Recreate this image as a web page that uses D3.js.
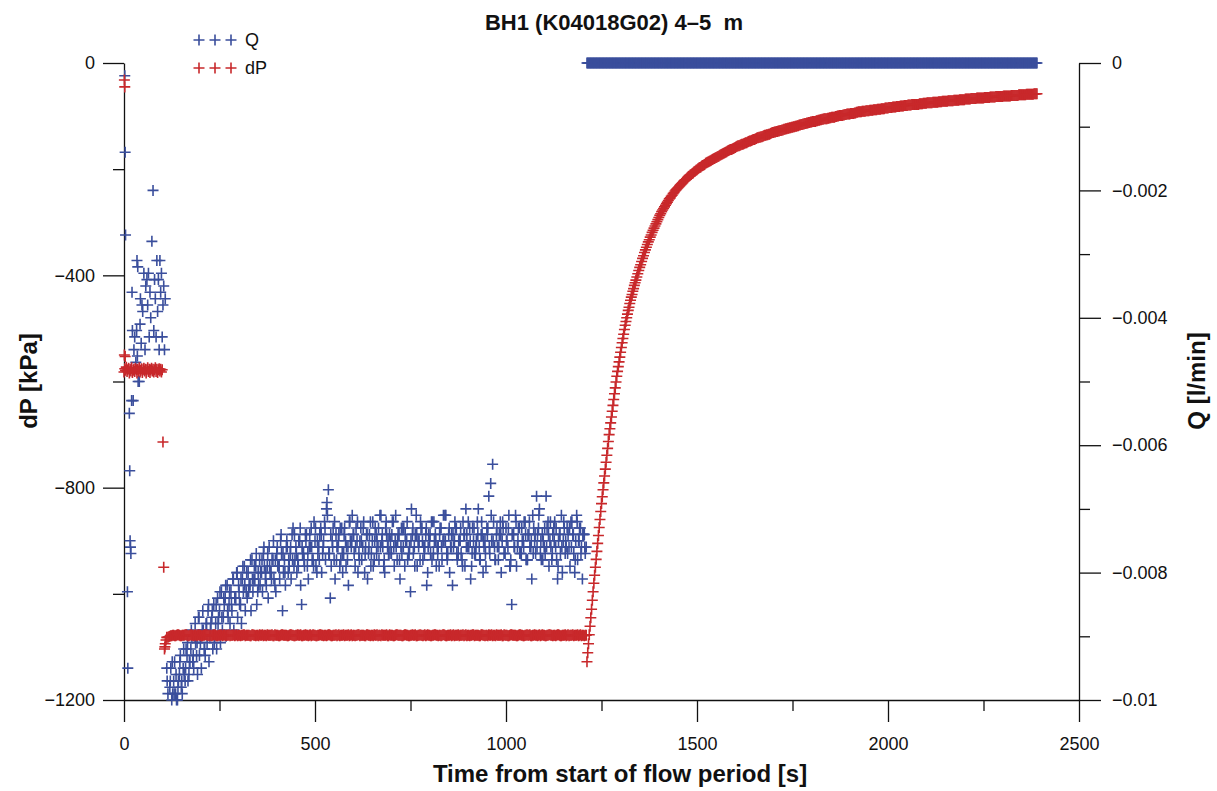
<!DOCTYPE html>
<html>
<head>
<meta charset="utf-8">
<script src="https://cdn.jsdelivr.net/npm/d3@7"></script>
<style>
  body { margin: 0; background: #fff; }
  text { font-family: "Liberation Sans", Arial, sans-serif; fill: #111; }
</style>
</head>
<body>
<div id="chart"></div>
<script>
// ---- data ----
// Q [l/min], first ~2 minutes (time, Q)
const qEarly = [[2,-0.0002],[3,-0.0014],[4,-0.0027],[9,-0.0083],[10,-0.0095],[14,-0.0055],[15,-0.0064],
  [16,-0.0075],[17,-0.0076],[18,-0.0077],[20,-0.0053],[21,-0.0036],[22,-0.0042],[24,-0.0053],[26,-0.0045],
  [28,-0.0043],[31,-0.0047],[33,-0.0042],[34,-0.0031],[35,-0.0046],[36,-0.0032],[37,-0.0050],[40,-0.0050],
  [42,-0.0041],[43,-0.0037],[45,-0.0044],[47,-0.0038],[49,-0.0039],[52,-0.0033],[55,-0.0045],[57,-0.0035],
  [60,-0.0034],[62,-0.0038],[64,-0.0033],[66,-0.0043],[68,-0.0036],[70,-0.0040],[73,-0.0028],[76,-0.0020],
  [78,-0.0042],[80,-0.0034],[82,-0.0037],[84,-0.0043],[86,-0.0031],[88,-0.0039],[90,-0.0034],[92,-0.0045],
  [94,-0.0031],[96,-0.0036],[98,-0.0033],[100,-0.0043],[102,-0.0038],[104,-0.0035],[106,-0.0045],[108,-0.0037],
  [112,-0.0095],[113,-0.0097],[115,-0.0099]];

// Q during flow period, logged every 5 s from 120 s
const qFlowStart = 120, qFlowStep = 5;
const qFlow = [
  -0.0098,-0.0100,-0.0097,-0.0099,-0.0100,-0.0096,-0.0098,-0.0095,-0.0097,-0.0093,
  -0.0096,-0.0092,-0.0094,-0.0090,-0.0093,-0.0087,-0.0091,-0.0089,-0.0092,-0.0088,
  -0.0086,-0.0090,-0.0087,-0.0085,-0.0088,-0.0084,-0.0086,-0.0083,-0.0087,-0.0084,
  -0.0082,-0.0085,-0.0083,-0.0081,-0.0084,-0.0080,-0.0082,-0.0085,-0.0081,-0.0079,
  -0.0083,-0.0080,-0.0082,-0.0078,-0.0081,-0.0079,-0.0083,-0.0078,-0.0080,-0.0077,
  -0.0081,-0.0079,-0.0076,-0.0080,-0.0078,-0.0082,-0.0077,-0.0079,-0.0075,-0.0086,
  -0.0078,-0.0076,-0.0080,-0.0077,-0.0074,-0.0079,-0.0076,-0.0078,-0.0075,-0.0085,
  -0.0077,-0.0074,-0.0079,-0.0076,-0.0073,-0.0078,-0.0075,-0.0080,-0.0076,-0.0073,
  -0.0077,-0.0072,-0.0070,-0.0067,-0.0084,-0.0075,-0.0078,-0.0074,-0.0076,-0.0079,
  -0.0073,-0.0077,-0.0075,-0.0078,-0.0072,-0.0076,-0.0074,-0.0079,-0.0075,-0.0077,
  -0.0073,-0.0076,-0.0080,-0.0074,-0.0077,-0.0072,-0.0075,-0.0078,-0.0074,-0.0076,
  -0.0071,-0.0075,-0.0079,-0.0073,-0.0076,-0.0074,-0.0077,-0.0072,-0.0075,-0.0078,
  -0.0074,-0.0076,-0.0073,-0.0079,-0.0075,-0.0077,-0.0083,-0.0074,-0.0076,-0.0071,
  -0.0075,-0.0078,-0.0073,-0.0076,-0.0074,-0.0080,-0.0075,-0.0072,-0.0077,-0.0074,
  -0.0076,-0.0079,-0.0073,-0.0075,-0.0071,-0.0077,-0.0074,-0.0076,-0.0082,-0.0075,
  -0.0073,-0.0077,-0.0075,-0.0078,-0.0074,-0.0070,-0.0076,-0.0073,-0.0079,-0.0075,
  -0.0077,-0.0072,-0.0076,-0.0074,-0.0080,-0.0075,-0.0073,-0.0068,-0.0066,-0.0063,
  -0.0076,-0.0074,-0.0078,-0.0072,-0.0075,-0.0077,-0.0073,-0.0076,-0.0079,-0.0085,
  -0.0074,-0.0071,-0.0076,-0.0073,-0.0077,-0.0075,-0.0072,-0.0078,-0.0074,-0.0076,
  -0.0071,-0.0075,-0.0068,-0.0073,-0.0077,-0.0074,-0.0076,-0.0068,-0.0072,-0.0075,
  -0.0078,-0.0073,-0.0076,-0.0081,-0.0074,-0.0071,-0.0075,-0.0077,-0.0073,-0.0076,
  -0.0072,-0.0074,-0.0080,-0.0071,-0.0075,-0.0073,-0.0081,-0.0074,-0.0076];

// the in-between readings (logged every 5 s from 122.5 s)
const qFlowStartB = 122.5;
const qFlowB = [
  -0.0095,-0.0099,-0.0094,-0.0100,-0.0097,-0.0093,-0.0099,-0.0096,
  -0.0092,-0.0097,-0.0094,-0.0090,-0.0095,-0.0091,-0.0096,-0.0093,
  -0.0095,-0.0089,-0.0093,-0.0091,-0.0094,-0.0088,-0.0092,-0.0090,
  -0.0092,-0.0087,-0.0091,-0.0089,-0.0085,-0.0090,-0.0087,-0.0088,
  -0.0086,-0.0089,-0.0084,-0.0087,-0.0085,-0.0088,-0.0083,-0.0086,
  -0.0084,-0.0082,-0.0086,-0.0083,-0.0081,-0.0085,-0.0082,-0.0080,
  -0.0083,-0.0079,-0.0082,-0.0084,-0.0080,-0.0078,-0.0081,-0.0083,
  -0.0079,-0.0081,-0.0077,-0.0080,-0.0082,-0.0076,-0.0079,-0.0081,
  -0.0073,-0.0078,-0.0080,-0.0075,-0.0082,-0.0077,-0.0079,-0.0074,
  -0.0081,-0.0076,-0.0078,-0.0072,-0.0079,-0.0077,-0.0074,-0.0080,
  -0.0075,-0.0078,-0.0071,-0.0077,-0.0079,-0.0073,-0.0081,-0.0076,
  -0.0074,-0.0078,-0.0080,-0.0073,-0.0076,-0.0082,-0.0075,-0.0071,
  -0.0077,-0.0073,-0.0080,-0.0075,-0.0078,-0.0072,-0.0076,-0.0081,-0.0074,-0.0077,
  -0.0079,-0.0073,-0.0075,-0.0078,-0.0071,-0.0076,-0.0080,-0.0074,-0.0077,-0.0075,
  -0.0072,-0.0079,-0.0076,-0.0074,-0.0081,-0.0077,-0.0073,-0.0075,-0.0078,-0.0076,
  -0.0070,-0.0077,-0.0074,-0.0079,-0.0075,-0.0073,-0.0078,-0.0076,-0.0082,-0.0074,
  -0.0077,-0.0072,-0.0075,-0.0079,-0.0076,-0.0073,-0.0078,-0.0075,-0.0071,-0.0077,
  -0.0080,-0.0074,-0.0076,-0.0073,-0.0078,-0.0075,-0.0077,-0.0072,-0.0079,-0.0074,
  -0.0076,-0.0081,-0.0073,-0.0077,-0.0075,-0.0070,-0.0078,-0.0074,-0.0076,-0.0079,
  -0.0073,-0.0077,-0.0075,-0.0072,-0.0078,-0.0076,-0.0074,-0.0080,-0.0073,-0.0077,
  -0.0075,-0.0071,-0.0078,-0.0074,-0.0076,-0.0079,-0.0073,-0.0077,-0.0075,-0.0072,
  -0.0078,-0.0074,-0.0076,-0.0081,-0.0073,-0.0077,-0.0074,-0.0070,-0.0078,-0.0075,
  -0.0077,-0.0073,-0.0079,-0.0076,-0.0074,-0.0072,-0.0078,-0.0075,-0.0077,-0.0080,
  -0.0073,-0.0076,-0.0074,-0.0079,-0.0072,-0.0077,-0.0075,-0.0078,-0.0073,-0.0076,
  -0.0074,-0.0077];

// a third set of readings (every 5 s from 121.25 s)
const qFlowStartC = 121.25;
const qFlowC = [
  -0.0097,-0.0094,-0.0099,-0.0096,-0.0098,-0.0094,-0.0097,-0.0092,
  -0.0095,-0.0091,-0.0094,-0.0089,-0.0093,-0.0088,-0.0091,-0.0087,
  -0.0090,-0.0086,-0.0092,-0.0088,-0.0085,-0.0089,-0.0086,-0.0091,
  -0.0085,-0.0088,-0.0083,-0.0087,-0.0084,-0.0082,-0.0086,-0.0083,
  -0.0085,-0.0081,-0.0084,-0.0080,-0.0083,-0.0081,-0.0079,-0.0082,
  -0.0080,-0.0083,-0.0078,-0.0081,-0.0079,-0.0077,-0.0080,-0.0082,
  -0.0078,-0.0076,-0.0080,-0.0077,-0.0079,-0.0081,-0.0075,-0.0078,
  -0.0076,-0.0079,-0.0074,-0.0077,-0.0080,-0.0075,-0.0078,-0.0076,
  -0.0078,-0.0074,-0.0077,-0.0079,-0.0073,-0.0076,-0.0078,-0.0075,
  -0.0077,-0.0074,-0.0076,-0.0079,-0.0073,-0.0075,-0.0078,-0.0074,
  -0.0076,-0.0073,-0.0069,-0.0077,-0.0074,-0.0076,-0.0072,-0.0078,
  -0.0075,-0.0073,-0.0077,-0.0074,-0.0079,-0.0076,-0.0072,-0.0075,
  -0.0074,-0.0076,-0.0072,-0.0078,-0.0075,-0.0073,-0.0077,-0.0074,-0.0076,-0.0079,
  -0.0072,-0.0075,-0.0077,-0.0073,-0.0076,-0.0074,-0.0078,-0.0072,-0.0075,-0.0077,
  -0.0074,-0.0076,-0.0071,-0.0075,-0.0078,-0.0073,-0.0076,-0.0074,-0.0072,-0.0077,
  -0.0075,-0.0073,-0.0079,-0.0074,-0.0076,-0.0072,-0.0075,-0.0077,-0.0073,-0.0076,
  -0.0074,-0.0078,-0.0072,-0.0075,-0.0077,-0.0074,-0.0076,-0.0071,-0.0075,-0.0078,
  -0.0073,-0.0076,-0.0074,-0.0072,-0.0077,-0.0075,-0.0073,-0.0079,-0.0074,-0.0076,
  -0.0072,-0.0075,-0.0077,-0.0073,-0.0076,-0.0074,-0.0078,-0.0072,-0.0075,-0.0077,
  -0.0074,-0.0076,-0.0071,-0.0075,-0.0078,-0.0073,-0.0076,-0.0074,-0.0072,-0.0077,
  -0.0075,-0.0073,-0.0079,-0.0074,-0.0076,-0.0072,-0.0075,-0.0077,-0.0073,-0.0076,
  -0.0074,-0.0078,-0.0072,-0.0075,-0.0077,-0.0074,-0.0076,-0.0071,-0.0075,-0.0078,
  -0.0073,-0.0076,-0.0074,-0.0072,-0.0077,-0.0075,-0.0073,-0.0079,-0.0074,-0.0076,
  -0.0072,-0.0075,-0.0077,-0.0073,-0.0076,-0.0074,-0.0078,-0.0072,-0.0075,-0.0077,
  -0.0074,-0.0076];

// Q after valve closed: constant reading, logged every 2 s
const qShutIn = 0;
const qShutStart = 1212, qShutEnd = 2390, qShutStep = 2;

// dP [kPa], first ~2 minutes (time, dP)
const dpEarly = [[1,-32],[2,-45],[1,-550],[3,-553],
  [0,-582],[2,-576],[4,-579],[6,-573],[8,-581],[10,-578],[12,-575],[14,-584],[16,-577],[18,-580],
  [20,-574],[22,-583],[24,-579],[26,-577],[28,-581],[30,-575],[32,-578],[34,-584],[36,-577],[38,-580],
  [40,-574],[42,-582],[44,-579],[46,-576],[48,-583],[50,-578],[52,-575],[54,-580],[56,-577],[58,-584],
  [60,-578],[62,-574],[64,-581],[66,-577],[68,-583],[70,-578],[72,-575],[74,-580],[76,-577],[78,-582],
  [80,-578],[82,-574],[84,-581],[86,-577],[88,-583],[90,-578],[92,-576],[94,-580],[96,-577],[98,-582],
  [100,-578],[102,-714],[104,-950],[106,-1104],[107,-1100],[108,-1094],[110,-1087],[112,-1082]];

// dP during flow period, logged every 5 s from 115 s (and in-between from 117.5 s)
const dpFlowStart = 115, dpFlowStartB = 117.5, dpFlowStep = 5;
const dpFlow = [
  -1082,-1080,-1079,-1078,-1079,-1077,-1078,-1079,-1078,-1077,-1078,-1079,-1077,-1078,-1078,-1079,
  -1077,-1078,-1079,-1078,-1077,-1078,-1078,-1079,-1077,-1078,-1079,-1078,-1077,-1078,-1079,-1078,
  -1077,-1078,-1078,-1079,-1077,-1078,-1079,-1078,-1077,-1078,-1078,-1079,-1077,-1078,-1079,-1078,
  -1077,-1078,-1079,-1078,-1077,-1078,-1078,-1079,-1077,-1078,-1079,-1078,-1077,-1078,-1078,-1079,
  -1077,-1078,-1079,-1078,-1077,-1078,-1079,-1078,-1077,-1078,-1078,-1079,-1077,-1078,-1079,-1078,
  -1077,-1078,-1078,-1079,-1077,-1078,-1079,-1078,-1077,-1078,-1079,-1078,-1077,-1078,-1078,-1079,
  -1077,-1078,-1079,-1078,-1077,-1078,-1078,-1079,-1077,-1078,-1079,-1078,-1077,-1078,-1079,-1078,
  -1077,-1078,-1078,-1079,-1077,-1078,-1079,-1078,-1077,-1078,-1078,-1079,-1077,-1078,-1079,-1078,
  -1077,-1078,-1079,-1078,-1077,-1078,-1078,-1079,-1077,-1078,-1079,-1078,-1077,-1078,-1078,-1079,
  -1077,-1078,-1079,-1078,-1077,-1078,-1079,-1078,-1077,-1078,-1078,-1079,-1077,-1078,-1079,-1078,
  -1077,-1078,-1078,-1079,-1077,-1078,-1079,-1078,-1077,-1078,-1079,-1078,-1077,-1078,-1078,-1079,
  -1077,-1078,-1079,-1078,-1077,-1078,-1078,-1079,-1077,-1078,-1079,-1078,-1077,-1078,-1079,-1078,
  -1077,-1078,-1078,-1079,-1077,-1078,-1079,-1078,-1077,-1078,-1078,-1079,-1077,-1078,-1079,-1078,
  -1077,-1078,-1079,-1078,-1077,-1078,-1078,-1079,-1077,-1078,-1079,-1078];
const dpFlowB = [
  -1081,-1079,-1078,-1079,-1078,-1077,-1079,-1078,-1078,-1077,-1079,-1078,-1078,-1079,-1077,-1078,
  -1078,-1079,-1078,-1077,-1078,-1079,-1078,-1078,-1077,-1079,-1078,-1078,-1079,-1077,-1078,-1078,
  -1079,-1078,-1077,-1078,-1079,-1078,-1078,-1077,-1079,-1078,-1078,-1079,-1077,-1078,-1078,-1079,
  -1078,-1077,-1078,-1079,-1078,-1078,-1077,-1079,-1078,-1078,-1079,-1077,-1078,-1078,-1079,-1078,
  -1077,-1078,-1079,-1078,-1078,-1077,-1079,-1078,-1078,-1079,-1077,-1078,-1078,-1079,-1078,-1077,
  -1078,-1079,-1078,-1078,-1077,-1079,-1078,-1078,-1079,-1077,-1078,-1078,-1079,-1078,-1077,-1078,
  -1079,-1078,-1078,-1077,-1079,-1078,-1078,-1079,-1077,-1078,-1078,-1079,-1078,-1077,-1078,-1079,
  -1078,-1078,-1077,-1079,-1078,-1078,-1079,-1077,-1078,-1078,-1079,-1078,-1077,-1078,-1079,-1078,
  -1078,-1077,-1079,-1078,-1078,-1079,-1077,-1078,-1078,-1079,-1078,-1077,-1078,-1079,-1078,-1078,
  -1077,-1079,-1078,-1078,-1079,-1077,-1078,-1078,-1079,-1078,-1077,-1078,-1079,-1078,-1078,-1077,
  -1079,-1078,-1078,-1079,-1077,-1078,-1078,-1079,-1078,-1077,-1078,-1079,-1078,-1078,-1077,-1079,
  -1078,-1078,-1079,-1077,-1078,-1078,-1079,-1078,-1077,-1078,-1079,-1078,-1078,-1077,-1079,-1078,
  -1078,-1079,-1077,-1078,-1078,-1079,-1078,-1077,-1078,-1079,-1078,-1078,-1077,-1079,-1078,-1078,
  -1079,-1077,-1078,-1078,-1079,-1078,-1077,-1078,-1079,-1078,-1078];

// dP recovery after shut-in (time, dP)
const dpRecovery = [
  [1212,-1128],[1214,-1111],[1216,-1094],[1218,-1077],[1220,-1061],[1222,-1045],[1224,-1029],[1226,-1012],
  [1228,-996],[1230,-980],[1232,-965],[1234,-950],[1236,-935],[1238,-920],[1240,-905],[1242,-890],
  [1244,-875],[1246,-860],[1248,-845],[1250,-830],[1252,-817],[1254,-804],[1256,-791],[1258,-778],
  [1260,-765],[1262,-752],[1264,-739],[1266,-726],[1268,-713],[1270,-700],[1272,-689],[1274,-678],
  [1276,-667],[1278,-656],[1280,-645],[1282,-634],[1284,-623],[1286,-612],[1288,-601],[1290,-590],
  [1292,-581],[1294,-572],[1296,-563],[1298,-554],[1300,-545],[1302,-536],[1304,-527],[1306,-519],
  [1308,-511],[1310,-502],[1312,-494],[1314,-487],[1316,-480],[1318,-473],[1320,-466],[1322,-460],
  [1324,-453],[1326,-447],[1328,-441],[1330,-436],[1332,-430],[1334,-425],[1336,-419],[1338,-414],
  [1340,-409],[1345,-397],[1350,-385],[1355,-374],[1360,-363],[1365,-352],[1370,-342],[1375,-333],
  [1380,-324],[1385,-315],[1390,-307],[1395,-299],[1400,-291],[1405,-284],[1410,-277],[1415,-271],
  [1420,-265],[1425,-259],[1430,-254],[1435,-249],[1440,-244],[1445,-239],[1450,-235],[1455,-231],
  [1460,-227],[1465,-223],[1470,-220],[1475,-216],[1480,-213],[1485,-210],[1490,-207],[1495,-204],
  [1500,-201],[1505,-198],[1510,-196],[1515,-193],[1520,-191],[1525,-188],[1530,-186],[1535,-184],
  [1540,-182],[1545,-180],[1550,-178],[1555,-176],[1560,-174],[1565,-172],[1570,-170],[1575,-168],
  [1580,-166],[1585,-164],[1590,-163],[1595,-161],[1600,-159],[1605,-157],[1610,-156],[1615,-154],
  [1620,-153],[1625,-151],[1630,-150],[1635,-148],[1640,-147],[1645,-145],[1650,-144],[1655,-142],
  [1660,-141],[1665,-140],[1670,-139],[1675,-137],[1680,-136],[1685,-135],[1690,-134],[1695,-132],
  [1700,-131],[1705,-130],[1710,-129],[1715,-128],[1720,-127],[1725,-126],[1730,-125],[1735,-124],
  [1740,-123],[1745,-122],[1750,-121],[1755,-120],[1760,-119],[1765,-118],[1770,-117],[1775,-116],
  [1780,-115],[1785,-114],[1790,-113],[1795,-112],[1800,-111],[1805,-110],[1810,-110],[1815,-109],
  [1820,-108],[1825,-107],[1830,-106],[1835,-105],[1840,-105],[1845,-104],[1850,-103],[1855,-102],
  [1860,-102],[1865,-101],[1870,-100],[1875,-99],[1880,-99],[1885,-98],[1890,-97],[1895,-96],
  [1900,-96],[1905,-95],[1910,-95],[1915,-94],[1920,-93],[1925,-92],[1930,-92],[1935,-91],
  [1940,-91],[1945,-90],[1950,-90],[1955,-89],[1960,-89],[1965,-88],[1970,-88],[1975,-87],
  [1980,-87],[1985,-86],[1990,-86],[1995,-85],[2000,-85],[2005,-84],[2010,-84],[2015,-83],
  [2020,-83],[2025,-82],[2030,-82],[2035,-81],[2040,-81],[2045,-80],[2050,-80],[2055,-79],
  [2060,-79],[2065,-78],[2070,-78],[2075,-78],[2080,-78],[2085,-77],[2090,-77],[2095,-76],
  [2100,-76],[2105,-75],[2110,-75],[2115,-75],[2120,-74],[2125,-74],[2130,-74],[2135,-73],
  [2140,-73],[2145,-72],[2150,-72],[2155,-72],[2160,-71],[2165,-71],[2170,-71],[2175,-70],
  [2180,-70],[2185,-70],[2190,-69],[2195,-69],[2200,-69],[2205,-68],[2210,-68],[2215,-68],
  [2220,-67],[2225,-67],[2230,-67],[2235,-66],[2240,-66],[2245,-66],[2250,-66],[2255,-65],
  [2260,-65],[2265,-65],[2270,-64],[2275,-64],[2280,-64],[2285,-63],[2290,-63],[2295,-63],
  [2300,-63],[2305,-62],[2310,-62],[2315,-62],[2320,-62],[2325,-61],[2330,-61],[2335,-61],
  [2340,-61],[2345,-60],[2350,-60],[2355,-60],[2360,-60],[2365,-59],[2370,-59],[2375,-59],
  [2380,-59],[2385,-58],[2390,-58]];

// recovery readings in between, every 5 s from 1342.5 s
const dpRecStartB = 1342.5, dpRecStepB = 5;
const dpRecoveryB = [
  -403,-391,-380,-368,-357,-347,-337,-328,-319,-311,-303,-295,-287,-280,-274,-268,-262,-256,-251,-246,
  -241,-237,-233,-229,-225,-221,-218,-214,-211,-208,-205,-202,-199,-197,-194,-192,-189,-187,-185,-183,
  -181,-179,-177,-175,-173,-171,-169,-167,-165,-163,-162,-160,-158,-156,-155,-153,-152,-150,-149,-147,
  -146,-144,-143,-141,-140,-139,-138,-136,-135,-134,-133,-131,-130,-129,-128,-127,-126,-125,-124,-123,
  -122,-121,-120,-119,-118,-117,-116,-115,-114,-113,-112,-111,-110,-110,-109,-108,-107,-106,-105,-105,
  -104,-103,-102,-102,-101,-100,-99,-99,-98,-97,-96,-96,-95,-95,-94,-93,-92,-92,-91,-91,
  -90,-90,-89,-89,-88,-88,-87,-87,-86,-86,-85,-85,-84,-84,-83,-83,-82,-82,-81,-81,
  -80,-80,-79,-79,-78,-78,-78,-78,-77,-77,-76,-76,-75,-75,-75,-74,-74,-74,-73,-73,
  -72,-72,-72,-71,-71,-71,-70,-70,-70,-69,-69,-69,-68,-68,-68,-67,-67,-67,-66,-66,
  -66,-66,-65,-65,-65,-64,-64,-64,-63,-63,-63,-63,-62,-62,-62,-62,-61,-61,-61,-61,
  -60,-60,-60,-60,-59,-59,-59,-59,-58,-58];

// ticks
const xMajor = [0, 500, 1000, 1500, 2000, 2500];
const xMinor = [250, 750, 1250, 1750, 2250];
const dpMajor = [0, -400, -800, -1200];
const dpMinor = [-200, -600, -1000];
const qMajor = [0, -0.002, -0.004, -0.006, -0.008, -0.01];
const qMinor = [-0.001, -0.003, -0.005, -0.007, -0.009];

const width = 1217, height = 791;
const margin = { top: 63, right: 138, bottom: 91, left: 124 };
const BLUE = "#3a4e9c", RED = "#c8282b";
const MARK_W = 1.6;

const svg = d3.select("#chart")
  .append("svg")
  .attr("width", width)
  .attr("height", height);

// Scales
const x = d3.scaleLinear().domain([0, 2500]).range([margin.left, width - margin.right]);
const yP = d3.scaleLinear().domain([-1200, 0]).range([height - margin.bottom, margin.top]);
const yQ = d3.scaleLinear().domain([-0.01, 0]).range([height - margin.bottom, margin.top]);

// build point lists
const qPoints = qEarly.map(([t, v]) => ({ t, v }))
  .concat(qFlow.map((v, i) => ({ t: qFlowStart + i * qFlowStep, v })))
  .concat(qFlowB.map((v, i) => ({ t: qFlowStartB + i * qFlowStep, v })))
  .concat(qFlowC.map((v, i) => ({ t: qFlowStartC + i * qFlowStep, v })))
  .concat(d3.range(qShutStart, qShutEnd + 1, qShutStep).map(t => ({ t, v: qShutIn })));
const dpPoints = dpEarly.map(([t, v]) => ({ t, v }))
  .concat(dpFlow.map((v, i) => ({ t: dpFlowStart + i * dpFlowStep, v })))
  .concat(dpFlowB.map((v, i) => ({ t: dpFlowStartB + i * dpFlowStep, v })))
  .concat(dpRecovery.map(([t, v]) => ({ t, v })))
  .concat(dpRecoveryB.map((v, i) => ({ t: dpRecStartB + i * dpRecStepB, v })));

const cross = "M-5.5,0H5.5M0,-5.5V5.5";

// Axes
const fmt = d => d === 0 ? "0" : d3.format("")(d);
const TICK_FONT = 18;

function styleAxis(g) {
  g.selectAll(".domain").attr("stroke", "#111").attr("stroke-width", 1.3);
  g.selectAll(".tick line").attr("stroke", "#111").attr("stroke-width", 1.3);
  g.selectAll(".tick text")
    .attr("font-size", TICK_FONT)
    .attr("font-family", "Liberation Sans, Arial, sans-serif")
    .attr("fill", "#111");
}

const bottom = height - margin.bottom;
svg.append("g")
  .attr("transform", `translate(0,${bottom})`)
  .call(d3.axisBottom(x).tickValues(xMajor).tickSize(22).tickSizeOuter(0).tickPadding(15).tickFormat(fmt))
  .call(styleAxis);
svg.append("g")
  .attr("transform", `translate(0,${bottom})`)
  .call(d3.axisBottom(x).tickValues(xMinor).tickSize(11).tickFormat(""))
  .call(g => g.select(".domain").remove())
  .call(styleAxis);

svg.append("g")
  .attr("transform", `translate(${margin.left},0)`)
  .call(d3.axisLeft(yP).tickValues(dpMajor).tickSize(21).tickSizeOuter(0).tickPadding(8).tickFormat(fmt))
  .call(styleAxis);
svg.append("g")
  .attr("transform", `translate(${margin.left},0)`)
  .call(d3.axisLeft(yP).tickValues(dpMinor).tickSize(11).tickFormat(""))
  .call(g => g.select(".domain").remove())
  .call(styleAxis);

svg.append("g")
  .attr("transform", `translate(${width - margin.right},0)`)
  .call(d3.axisRight(yQ).tickValues(qMajor).tickSize(22).tickSizeOuter(0).tickPadding(11).tickFormat(fmt))
  .call(styleAxis);
svg.append("g")
  .attr("transform", `translate(${width - margin.right},0)`)
  .call(d3.axisRight(yQ).tickValues(qMinor).tickSize(11).tickFormat(""))
  .call(g => g.select(".domain").remove())
  .call(styleAxis);

// Markers: Q first, dP drawn on top
svg.append("g")
  .selectAll("path")
  .data(qPoints)
  .join("path")
  .attr("d", cross)
  .attr("transform", d => `translate(${x(d.t)},${yQ(d.v)})`)
  .attr("fill", "none")
  .attr("stroke", BLUE)
  .attr("stroke-width", MARK_W);

svg.append("g")
  .selectAll("path")
  .data(dpPoints)
  .join("path")
  .attr("d", cross)
  .attr("transform", d => `translate(${x(d.t)},${yP(d.v)})`)
  .attr("fill", "none")
  .attr("stroke", RED)
  .attr("stroke-width", MARK_W);

// Titles
svg.append("text")
  .attr("x", 614)
  .attr("y", 30)
  .attr("text-anchor", "middle")
  .attr("font-size", 22)
  .attr("font-weight", "bold")
  .style("white-space", "pre")
  .text("BH1 (K04018G02) 4–5  m");

svg.append("text")
  .attr("x", 620)
  .attr("y", 782)
  .attr("text-anchor", "middle")
  .attr("font-size", 24)
  .attr("font-weight", "bold")
  .text("Time from start of flow period [s]");

svg.append("text")
  .attr("transform", "translate(37,381) rotate(-90)")
  .attr("text-anchor", "middle")
  .attr("font-size", 24)
  .attr("font-weight", "bold")
  .text("dP [kPa]");

svg.append("text")
  .attr("transform", "translate(1205,381) rotate(-90)")
  .attr("text-anchor", "middle")
  .attr("font-size", 24)
  .attr("font-weight", "bold")
  .text("Q [l/min]");

// Legend
const legend = [{ name: "Q", color: BLUE, y: 40 }, { name: "dP", color: RED, y: 68 }];
legend.forEach(l => {
  const row = svg.append("g").attr("transform", `translate(0,${l.y})`);
  [199, 215, 231].forEach(cx => {
    row.append("path")
      .attr("d", cross)
      .attr("transform", `translate(${cx},0)`)
      .attr("fill", "none")
      .attr("stroke", l.color)
      .attr("stroke-width", MARK_W);
  });
  row.append("text")
    .attr("x", 245)
    .attr("y", 6)
    .attr("font-size", 18)
    .text(l.name);
});
</script>
</body>
</html>
